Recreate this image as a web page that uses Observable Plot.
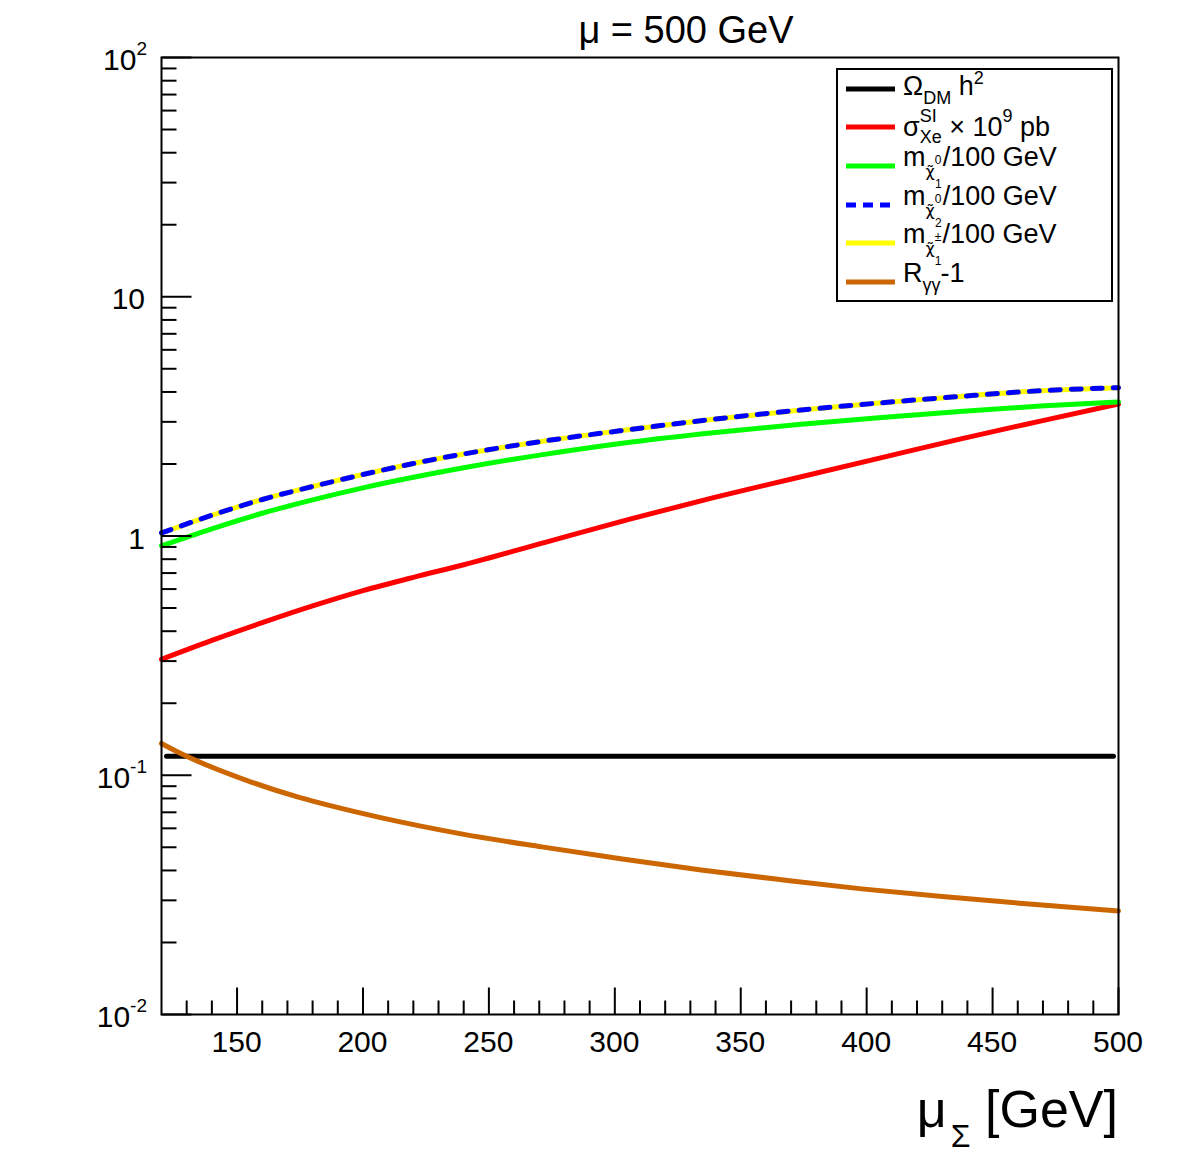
<!DOCTYPE html>
<html><head><meta charset="utf-8">
<script src="https://cdn.jsdelivr.net/npm/d3@7"></script>
<script src="https://cdn.jsdelivr.net/npm/@observablehq/plot@0.6"></script>
<style>body{margin:0;background:#fff}</style>
</head><body>
<script>
// ---- data ----
const muSigma = [120,140,160,180,200,220,240,272,306,340,374,406,437,469,500];
const sigmaSI = [0.305,0.366,0.434,0.510,0.591,0.672,0.758,0.938,1.177,1.454,1.769,2.127,2.542,3.022,3.562];
const mChi1 = [0.910,1.072,1.245,1.416,1.589,1.759,1.928,2.194,2.467,2.710,2.931,3.131,3.316,3.491,3.630];
const mChi2 = [1.030,1.221,1.421,1.610,1.807,2.009,2.202,2.495,2.786,3.083,3.361,3.605,3.831,4.048,4.170];
const mCharg = [1.030,1.221,1.421,1.610,1.807,2.009,2.202,2.495,2.786,3.083,3.361,3.605,3.831,4.048,4.170];
const omegaX = [122, 498];
const omegaH2 = [0.12, 0.12];
const rgamX = [120,127.5,154,175,187,207,239,271,303,335,367,398,430,462,500];
const rgam = [0.1358,0.1235,0.0950,0.0806,0.0746,0.0665,0.0569,0.0502,0.0447,0.0401,0.0365,0.0335,0.0311,0.0291,0.0271];

const xMajor = [150,200,250,300,350,400,450,500];
const xMinor = [130,140,160,170,180,190,210,220,230,240,260,270,280,290,310,320,330,340,360,370,380,390,410,420,430,440,460,470,480,490];
const yMajor = [0.01,0.1,1,10,100];
const yMinor = [0.02,0.03,0.04,0.05,0.06,0.07,0.08,0.09,0.2,0.3,0.4,0.5,0.6,0.7,0.8,0.9,2,3,4,5,6,7,8,9,20,30,40,50,60,70,80,90];
const xTickLabels = ["150","200","250","300","350","400","450","500"];

const series = (xs, ys) => xs.map((x, i) => ({x, y: ys[i]}));
const tickShape = {draw(c, l) { c.moveTo(0, 0); c.lineTo(0, -l); }};
const FONT = "'Liberation Sans', Arial, Helvetica, sans-serif";
const lw = 5;
const crv = "monotone-x";

const svg = Plot.plot({
  width: 1196, height: 1166,
  marginLeft: 161, marginRight: 78, marginTop: 57, marginBottom: 152,
  style: {background: "white", fontFamily: FONT},
  x: {domain: [120, 500], axis: null},
  y: {type: "log", domain: [0.01, 100], axis: null},
  marks: [
    Plot.line(series(omegaX, omegaH2), {x: "x", y: "y", stroke: "#000000", strokeWidth: lw}),
    Plot.line(series(muSigma, sigmaSI), {x: "x", y: "y", stroke: "#ff0000", strokeWidth: lw, curve: crv}),
    Plot.line(series(muSigma, mChi1), {x: "x", y: "y", stroke: "#00ff00", strokeWidth: lw, curve: crv}),
    Plot.line(series(muSigma, mCharg), {x: "x", y: "y", stroke: "#ffff00", strokeWidth: lw, curve: crv}),
    Plot.line(series(muSigma, mChi2), {x: "x", y: "y", stroke: "#0000ff", strokeWidth: lw, strokeDasharray: "10,11", curve: crv}),
    Plot.line(series(rgamX, rgam), {x: "x", y: "y", stroke: "#cc6600", strokeWidth: lw, curve: crv}),
    Plot.vector(yMajor, {y: d => d, frameAnchor: "left", rotate: 90, length: 30, anchor: "start", shape: tickShape, stroke: "black", strokeWidth: 2, strokeLinecap: "butt"}),
    Plot.vector(yMinor, {y: d => d, frameAnchor: "left", rotate: 90, length: 15, anchor: "start", shape: tickShape, stroke: "black", strokeWidth: 2, strokeLinecap: "butt"}),
    Plot.vector(xMajor, {x: d => d, frameAnchor: "bottom", length: 27, anchor: "start", shape: tickShape, stroke: "black", strokeWidth: 2, strokeLinecap: "butt"}),
    Plot.vector(xMinor, {x: d => d, frameAnchor: "bottom", length: 14, anchor: "start", shape: tickShape, stroke: "black", strokeWidth: 2, strokeLinecap: "butt"}),
    Plot.frame({stroke: "black", strokeWidth: 2})
  ]
});
document.body.appendChild(svg);

const sx = svg.scale("x"), sy = svg.scale("y");
const root = d3.select(svg);

// rich text helper: parts have absolute baselines "b", converted to relative dy
function rich(x, y0, anchor, parts) {
  const t = root.append("text").attr("x", x).attr("y", y0)
    .attr("text-anchor", anchor).attr("font-family", FONT).attr("fill", "black");
  let prev = y0;
  for (const p of parts) {
    const s = t.append("tspan").text(p.t).attr("font-size", p.size).attr("dy", p.b - prev);
    if (p.dx) s.attr("dx", p.dx);
    if (p.family) s.attr("font-family", p.family);
    prev = p.b;
  }
  return t;
}

// title
rich(686, 43, "middle", [{t: "μ = 500 GeV", size: 38, b: 43}]);

// y tick labels
const yl = [
  {v: 100, m: "10", e: "2"}, {v: 10, m: "10", e: null}, {v: 1, m: "1", e: null},
  {v: 0.1, m: "10", e: "-1"}, {v: 0.01, m: "10", e: "-2"}
];
for (const d of yl) {
  const b = sy.apply(d.v) + 13;
  const parts = [{t: d.m, size: 30, b}];
  if (d.e) parts.push({t: d.e, size: 19, b: b - 15});
  rich(d.e ? 147 : 145, b, "end", parts);
}
// x tick labels
xMajor.forEach((v, i) => rich(sx.apply(v), 1052, "middle", [{t: xTickLabels[i], size: 30, b: 1052}]));

// x axis title
rich(1118, 1127, "end", [
  {t: "μ", size: 52, b: 1127},
  {t: "Σ", size: 32, b: 1147, dx: 4},
  {t: " [GeV]", size: 52, b: 1127}
]);

// legend
root.append("rect").attr("x", 837).attr("y", 69).attr("width", 275).attr("height", 232)
  .attr("fill", "white").attr("stroke", "black").attr("stroke-width", 2);
const legendRows = [
  {y: 89, stroke: "#000000"},
  {y: 127, stroke: "#ff0000"},
  {y: 166, stroke: "#00ff00"},
  {y: 205, stroke: "#0000ff", dash: "10,7"},
  {y: 243, stroke: "#ffff00"},
  {y: 282, stroke: "#cc6600"}
];
for (const r of legendRows) {
  const l = root.append("line").attr("x1", 846).attr("x2", 895).attr("y1", r.y).attr("y2", r.y)
    .attr("stroke", r.stroke).attr("stroke-width", lw);
  if (r.dash) l.attr("stroke-dasharray", r.dash);
}
const LX = 903, FS = 27, SS = 18, TS = 12, DJ = "'DejaVu Sans', sans-serif";
rich(LX, 95, "start", [
  {t: "Ω", size: FS, b: 95}, {t: "DM", size: SS, b: 104}, {t: " h", size: FS, b: 95}, {t: "2", size: SS, b: 84}
]);
rich(LX, 136, "start", [
  {t: "σ", size: FS, b: 136}, {t: "SI", size: SS, b: 122}, {t: "Xe", size: SS, b: 143, dx: -17},
  {t: " × 10", size: FS, b: 136}, {t: "9", size: SS, b: 122}, {t: " pb", size: FS, b: 136}
]);
function massRow(base, sup, sub, supW) {
  rich(LX, base, "start", [
    {t: "m", size: FS, b: base},
    {t: "χ\u0303", size: 16, b: base + 11, family: DJ},
    {t: sup, size: TS, b: base - 2},
    {t: sub, size: TS, b: base + 22, dx: -supW},
    {t: "/100 GeV", size: FS, b: base, dx: 1}
  ]);
}
massRow(166, "0", "1", 6.5);
massRow(205, "0", "2", 6.5);
massRow(243, "±", "1", 6.5);
rich(LX, 282, "start", [
  {t: "R", size: FS, b: 282}, {t: "γγ", size: SS, b: 291}, {t: "-1", size: FS, b: 282}
]);
</script>
</body></html>
